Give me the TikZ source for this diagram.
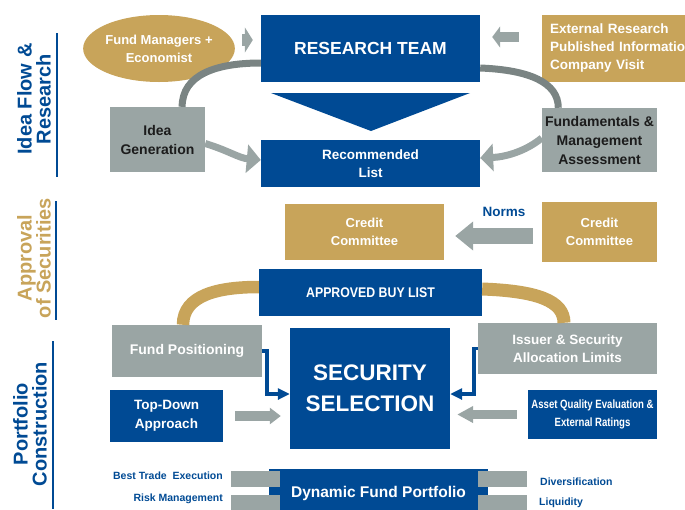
\documentclass[tikz,border=0pt]{standalone}
\usepackage{fontspec}
\setmainfont{Liberation Sans}
\newfontfamily\narrowsans[FakeStretch=0.88]{Liberation Sans}
\newfontfamily\condsans[FakeStretch=0.8]{Liberation Sans}
\usetikzlibrary{shapes.geometric,arrows.meta,calc}
\definecolor{deckBlue}{RGB}{0,74,148}
\definecolor{deckGold}{RGB}{200,164,90}
\definecolor{deckGray}{RGB}{154,165,164}
\definecolor{deckArc}{RGB}{122,132,131}
\definecolor{deckInk}{RGB}{28,28,28}

\begin{document}
\begin{tikzpicture}[x=1pt,y=-1pt,
    card/.style={rectangle,inner sep=0pt,align=center,font=\bfseries\fontsize{13}{18}\selectfont},
    bluecard/.style={card,fill=deckBlue,text=white},
    goldcard/.style={card,fill=deckGold,text=white},
    graycard/.style={card,fill=deckGray,text=white},
    sidelabel/.style={rotate=90,align=center,font=\bfseries\fontsize{20}{19}\selectfont},
    smalltag/.style={text=deckBlue,inner sep=0pt,font=\bfseries\fontsize{10.5}{12}\selectfont},
    blockarrow/.style n args={3}{draw=deckGray,line width=#1,-{Triangle[length=#2,width=#3]}},
    elbow/.style={draw=deckBlue,line width=3.5pt,-{Triangle[length=12pt,width=11pt]}}]
  \useasboundingbox (0,0) rectangle (685,509);
  \clip (0,0) rectangle (685,509);

  % side labels
  \node[sidelabel,text=deckBlue] (lblidea) at (34,99) {Idea Flow \&\\Research};
  \node[sidelabel,text=deckGold] (lblappr) at (34,258) {Approval\\of Securities};
  \node[sidelabel,text=deckBlue] (lblport) at (30,424) {Portfolio\\Construction};
  \draw[deckBlue,line width=1.5pt] (57,33) -- (57,177);
  \draw[deckBlue,line width=1.5pt] (56,201) -- (56,320);
  \draw[deckBlue,line width=1.5pt] (53,341) -- (53,509);

  % idea flow & research
  \node[ellipse,fill=deckGold,text=white,inner sep=0pt,minimum width=118pt,minimum height=67pt,
    align=center,font=\bfseries\fontsize{13}{18}\selectfont] (fundmgr) at (159,48.5) {Fund Managers +\\Economist};
  \node[bluecard,minimum width=219pt,minimum height=67pt,font=\bfseries\fontsize{17.5}{20}\selectfont]
    (research) at (370.5,48.5) {RESEARCH TEAM};
  \node[goldcard,minimum width=160pt,minimum height=67pt,text width=144pt,align=left,
    font=\bfseries\fontsize{13.5}{18}\selectfont] (extres) at (622,48.5)
    {External Research\\Published Information\\Company Visit};
  \fill[deckBlue] (271,93) -- (470,93) -- (371,131) -- cycle;
  \node[bluecard,minimum width=219pt,minimum height=47pt,font=\bfseries\fontsize{13.5}{18}\selectfont]
    (reclist) at (370.5,163.5) {Recommended\\List};
  \node[graycard,text=deckInk,minimum width=95pt,minimum height=65pt,font=\bfseries\fontsize{14}{19}\selectfont]
    (ideagen) at (157.5,139.5) {Idea\\Generation};
  \node[graycard,text=deckInk,minimum width=115pt,minimum height=64pt,font=\bfseries\fontsize{14}{19}\selectfont]
    (fundam) at (599.5,140) {Fundamentals \&\\Management\\Assessment};

  \draw[deckArc,line width=7pt] (ideagen.53) .. controls +(0,-32) and +(-45,0) .. ($(research.west)+(0,14.5)$);
  \draw[deckArc,line width=7pt] ($(research.east)+(0,19.5)$) .. controls +(50,2) and +(0,-25) .. (fundam.142);
  \draw[deckGray,line width=7pt,-{Triangle[length=14pt,width=28pt]}]
    ($(ideagen.east)+(0,4)$) .. controls +(23,7) and +(-22,-2) .. ($(reclist.west)+(0,-3.5)$);
  \draw[deckGray,line width=7pt,-{Triangle[length=13pt,width=27pt]}]
    ($(fundam.west)+(0,-2)$) .. controls +(-17,14) and +(24,-1) .. ($(reclist.east)+(0,-5.5)$);
  \draw[blockarrow={12pt}{8pt}{25pt},shorten <=7pt,shorten >=8pt]
    ($(fundmgr.east)+(0,-8.5)$) -- ($(research.west)+(0,-8.5)$);
  \draw[blockarrow={10pt}{8pt}{21pt},shorten <=23pt,shorten >=12pt]
    ($(extres.west)+(0,-11.5)$) -- ($(research.east)+(0,-11.5)$);

  % approval of securities
  \node[goldcard,minimum width=159pt,minimum height=56pt] (credit) at (364.5,232) {Credit\\Committee};
  \node[goldcard,minimum width=115pt,minimum height=60pt] (creditext) at (599.5,232) {Credit\\Committee};
  \draw[blockarrow={16pt}{18pt}{28pt},shorten <=9pt,shorten >=11pt]
    ($(creditext.west)+(0,4)$) -- ($(credit.east)+(0,4)$);
  \node[text=deckBlue,font=\bfseries\fontsize{13.5}{16}\selectfont] (norms) at (504,212) {Norms};
  \node[bluecard,minimum width=223pt,minimum height=47pt,font=\narrowsans\bfseries\fontsize{14}{18}\selectfont]
    (approved) at (370.5,292.5) {APPROVED BUY LIST};

  % portfolio construction
  \node[graycard,minimum width=150pt,minimum height=52pt,font=\bfseries\fontsize{14}{19}\selectfont]
    (fundpos) at (187,351) {Fund Positioning};
  \node[graycard,minimum width=179pt,minimum height=51pt,font=\bfseries\fontsize{13.5}{18}\selectfont]
    (issuer) at (567.5,348.5) {Issuer \& Security\\Allocation Limits};
  \draw[deckGold,line width=12.5pt] ($(fundpos.north)+(-4,0)$) .. controls +(0,-30) and +(-40,0) .. ($(approved.west)+(0,-5.5)$);
  \draw[deckGold,line width=13pt] ($(approved.east)+(0,-3.5)$) .. controls +(55,2) and +(0,-22) .. ($(issuer.north)+(-3.5,0)$);
  \node[bluecard,minimum width=160pt,minimum height=121pt,font=\bfseries\fontsize{22.5}{31}\selectfont]
    (security) at (370,388.5) {SECURITY\\SELECTION};
  \node[bluecard,minimum width=113pt,minimum height=52pt,font=\bfseries\fontsize{13.5}{19}\selectfont]
    (topdown) at (166.5,416) {Top-Down\\Approach};
  \node[bluecard,minimum width=129pt,minimum height=49pt,font=\condsans\bfseries\fontsize{12}{18}\selectfont]
    (asset) at (592.5,414.5) {Asset Quality Evaluation \&\\External Ratings};
  \draw[elbow] (fundpos.east) -- ++(5,0) |- ($(security.west)+(0,5.5)$);
  \draw[elbow] (issuer.west) -- ++(-4,0) |- ($(security.east)+(0,5.5)$);
  \draw[blockarrow={10pt}{11pt}{16pt},shorten <=12pt,shorten >=9pt] (topdown.east) -- (topdown.east -| security.west);
  \draw[blockarrow={9pt}{16pt}{16pt},shorten <=11pt,shorten >=7pt] (asset.west) -- (asset.west -| security.east);

  \node[bluecard,minimum width=219pt,minimum height=48pt,font=\bfseries\fontsize{15.5}{18}\selectfont]
    (dynamic) at (378.5,493) {Dynamic Fund Portfolio};
  \foreach \bx in {231,478}{
    \foreach \by in {471,495}{
      \fill[deckGray] (\bx,\by) rectangle ++(48.5,16);
    }
  }
  \node[smalltag,anchor=east] (besttrade) at (223,476) {Best Trade~ Execution};
  \node[smalltag,anchor=east] (riskmgmt) at (223,499) {Risk Management};
  \node[smalltag,anchor=west] (divers) at (540,482) {Diversification};
  \node[smalltag,anchor=west] (liquid) at (539,503) {Liquidity};
\end{tikzpicture}
\end{document}
